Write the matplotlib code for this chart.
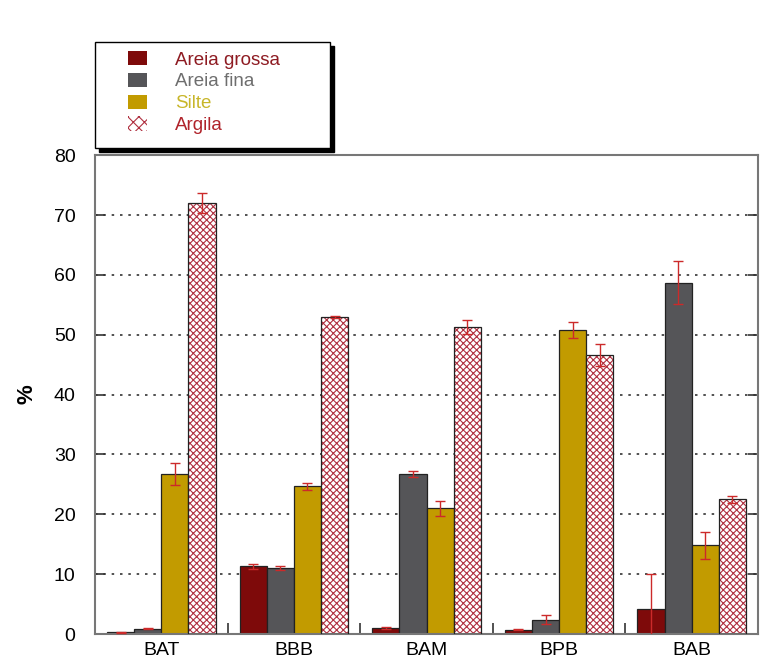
import numpy as np
import matplotlib.pyplot as plt
from matplotlib.patches import Patch, Rectangle

plt.rcParams['font.family'] = ['Liberation Sans', 'DejaVu Sans']
plt.rcParams['hatch.linewidth'] = 0.8

# Data
sites = ["BAT", "BBB", "BAM", "BPB", "BAB"]
series = ["Areia grossa", "Areia fina", "Silte", "Argila"]
areia_grossa = [0.3, 11.3, 1.0, 0.7, 4.1]
areia_grossa_err = [0.1, 0.4, 0.2, 0.1, 6.0]
areia_fina = [0.9, 11.0, 26.8, 2.4, 58.7]
areia_fina_err = [0.1, 0.3, 0.5, 0.7, 3.6]
silte = [26.7, 24.7, 21.0, 50.8, 14.8]
silte_err = [1.8, 0.6, 1.3, 1.3, 2.2]
argila = [72.0, 53.0, 51.3, 46.6, 22.5]
argila_err = [1.6, 0.2, 1.2, 1.8, 0.6]

values = [areia_grossa, areia_fina, silte, argila]
errors = [areia_grossa_err, areia_fina_err, silte_err, argila_err]
colors = ["#7e0a0a", "#555558", "#c29b00", "white"]
text_colors = ["#8e1b22", "#6e6e6e", "#c8b62a", "#b0232a"]
err_color = "#cc2a2a"
hatch_color = "#b03040"

fig = plt.figure(figsize=(7.8, 6.66), dpi=100)
ax = fig.add_axes([0.1218, 0.048, 0.85, 0.719])

x = np.arange(len(sites)) + 0.5
w = 0.205
for i, (vals, errs) in enumerate(zip(values, errors)):
    pos = x + (i - 1.5) * w
    if series[i] == "Argila":
        ax.bar(pos, vals, w, color="white", edgecolor=hatch_color, hatch="xxxxx",
               linewidth=0, zorder=2)
        ax.bar(pos, vals, w, fill=False, edgecolor="#222222", linewidth=0.9, zorder=3)
    else:
        ax.bar(pos, vals, w, color=colors[i], edgecolor="#222222", linewidth=0.9, zorder=2)
    ax.errorbar(pos, vals, yerr=errs, fmt="none", ecolor=err_color, elinewidth=1,
                capsize=3.5, capthick=1, zorder=4)

ax.set_xlim(0, 5)
ax.set_ylim(0, 80)
ax.set_yticks(range(0, 81, 10))
ax.set_xticks(x)
ax.set_xticklabels(sites, fontsize=14)
ax.set_xticks([1, 2, 3, 4], minor=True)
ax.tick_params(axis="x", which="major", length=0, pad=6)
ax.tick_params(axis="x", which="minor", direction="in", length=8, width=1.2, color="#333333")
ax.tick_params(axis="y", direction="in", length=7, width=1.2, right=True, labelsize=14,
               pad=14, color="#333333")
ax.grid(axis="y", linestyle=(0, (1.5, 3.5)), color="#333333", linewidth=1.2, zorder=0)
ax.set_axisbelow(True)
for s in ax.spines.values():
    s.set_color("#777777")
    s.set_linewidth(1.5)
ax.set_ylabel("%", fontsize=16, fontweight="bold", labelpad=12)

# legend box with a solid shadow
W, H = 780, 666
x0, x1, y0, y1 = 95, 330, 42, 148
sh = 4
fig.patches.append(Rectangle(((x0 + sh) / W, 1 - (y1 + sh) / H), (x1 - x0) / W, (y1 - y0) / H,
                             transform=fig.transFigure, facecolor="black", edgecolor="black",
                             zorder=1))
fig.patches.append(Rectangle((x0 / W, 1 - y1 / H), (x1 - x0) / W, (y1 - y0) / H,
                             transform=fig.transFigure, facecolor="white", edgecolor="black",
                             linewidth=1.0, zorder=2))

handles = []
for i, name in enumerate(series):
    if name == "Argila":
        handles.append(Patch(facecolor="white", edgecolor=hatch_color, hatch="xxx",
                             linewidth=0, label=name))
    else:
        handles.append(Patch(facecolor=colors[i], edgecolor="none", label=name))
leg = fig.legend(handles=handles, loc="upper left", bbox_to_anchor=(128 / W, 1 - 51 / H),
                 fontsize=13.5, frameon=False, handlelength=1.0, handleheight=0.8,
                 handletextpad=1.5, labelspacing=0.22, borderpad=0, borderaxespad=0)
leg.set_zorder(5)
for t, c in zip(leg.get_texts(), text_colors):
    t.set_color(c)

fig.savefig("out.png", dpi=100)
